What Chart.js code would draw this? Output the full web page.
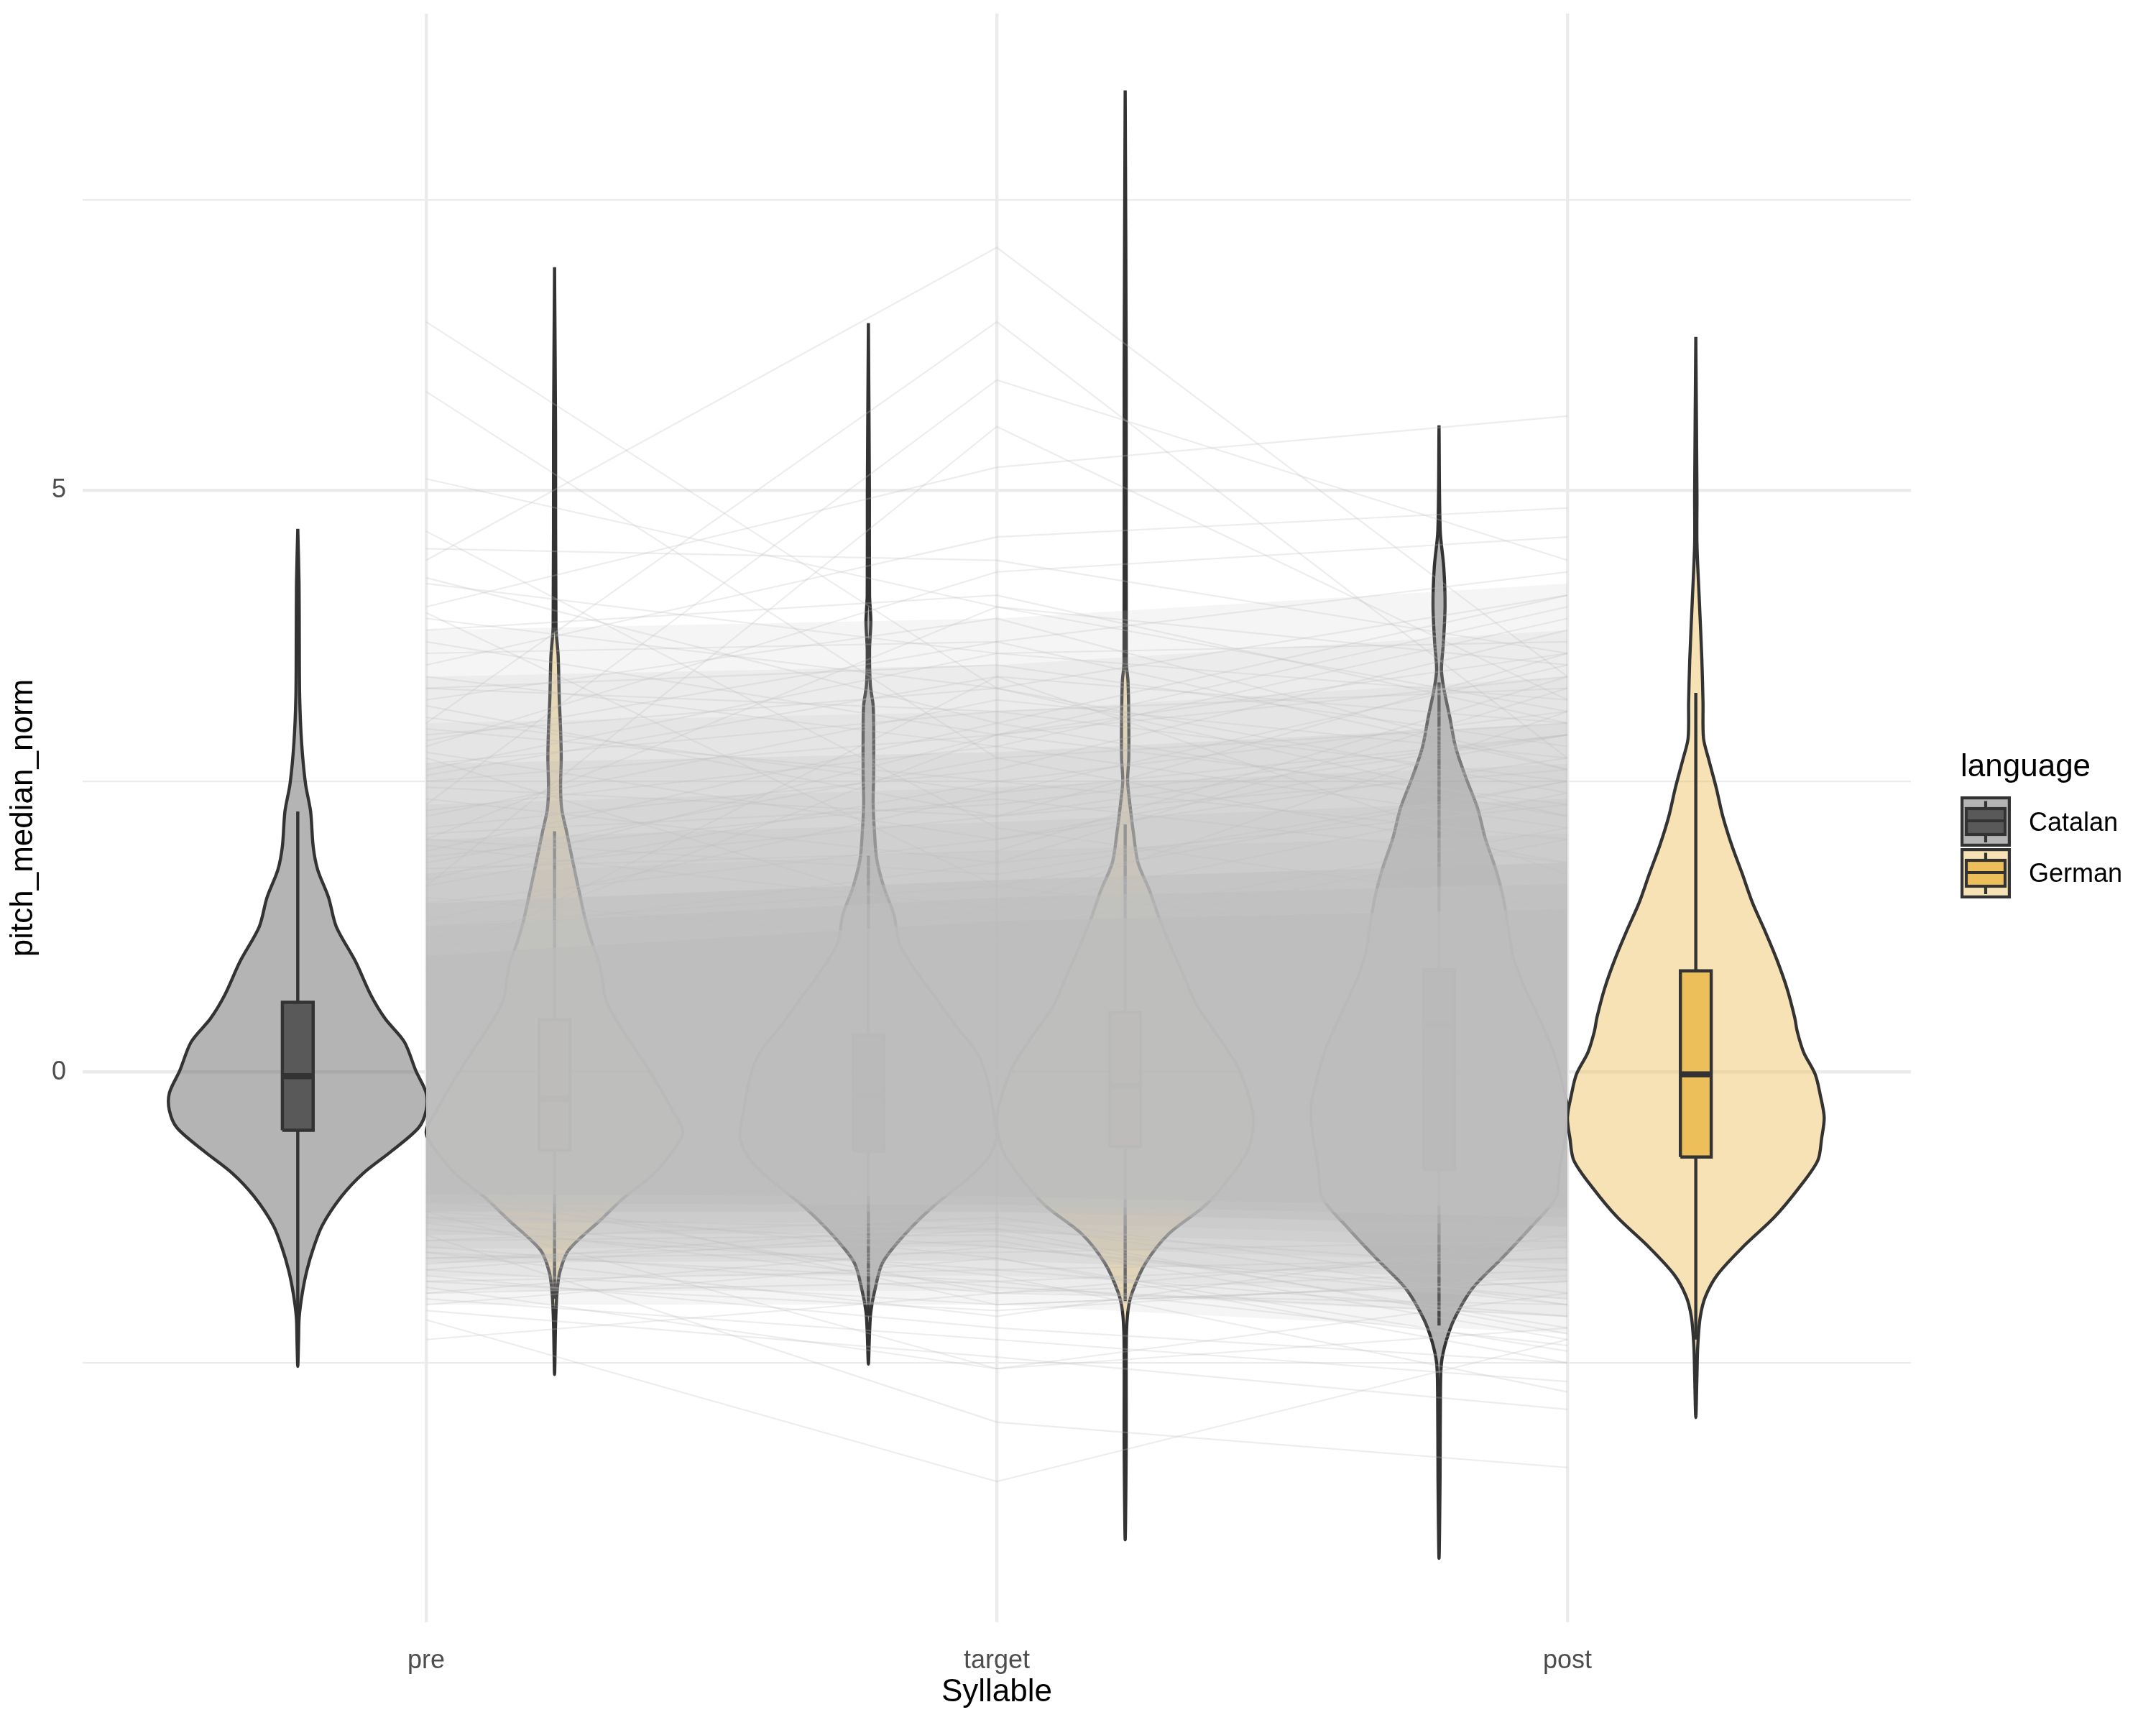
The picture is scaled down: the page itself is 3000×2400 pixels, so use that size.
<!DOCTYPE html>
<html>
<head>
<meta charset="utf-8">
<script src="https://cdn.jsdelivr.net/npm/chart.js@4.4.1/dist/chart.umd.min.js"></script>
<style>
html,body{margin:0;padding:0;background:#ffffff;}
#wrap{width:3000px;height:2400px;position:relative;}
</style>
</head>
<body>
<div id="wrap"><canvas id="c"></canvas></div>
<script>
// ---------------- data ----------------
const categories = ['pre', 'target', 'post'];
const languages = ['Catalan', 'German'];
const yGridValues = [-2.5, 0, 2.5, 5, 7.5];
const yTickLabels = [0, 5];

// violin outlines: y levels and relative half-width (1 = widest)
const catalanPreY = [4.67,4.2,3.7,3.22,2.83,2.48,2.24,1.94,1.74,1.50,1.25,0.95,0.66,0.46,0.26,0.01,-0.18,-0.33,-0.48,-0.68,-0.87,-1.07,-1.32,-1.52,-1.71,-1.91,-2.11,-2.31,-2.53];
const catalanPreW = [0,0.01,0.012,0.015,0.03,0.06,0.10,0.12,0.155,0.24,0.30,0.45,0.57,0.68,0.83,0.92,1.0,1.0,0.94,0.73,0.51,0.34,0.19,0.12,0.07,0.034,0.011,0.006,0];
const germanPreY = [6.92,5.5,3.83,3.58,3.2,2.95,2.70,2.45,2.26,2.07,1.82,1.56,1.31,1.12,0.93,0.81,0.62,0.43,0.18,-0.08,-0.33,-0.52,-0.71,-0.90,-1.08,-1.27,-1.53,-1.72,-1.90,-2.16,-2.6];
const germanPreW = [0,0.008,0.011,0.028,0.037,0.047,0.052,0.047,0.056,0.093,0.14,0.19,0.24,0.29,0.35,0.37,0.40,0.49,0.64,0.79,0.92,1.0,0.90,0.75,0.54,0.36,0.11,0.041,0.019,0.008,0];
const catalanTargetY = [6.44,5.0,4.1,3.87,3.63,3.33,3.15,2.91,2.55,2.31,2.07,1.83,1.59,1.35,1.11,0.87,0.63,0.40,0.16,-0.08,-0.32,-0.56,-0.74,-0.92,-1.16,-1.40,-1.64,-1.88,-2.06,-2.24,-2.51];
const catalanTargetW = [0,0.008,0.009,0.019,0.009,0.015,0.037,0.041,0.041,0.037,0.047,0.065,0.12,0.20,0.24,0.37,0.53,0.68,0.85,0.93,0.97,1.0,0.93,0.77,0.50,0.28,0.11,0.049,0.019,0.009,0];
const germanTargetY = [8.44,6.0,3.52,3.36,3.03,2.70,2.5,2.30,2.05,1.80,1.56,1.31,1.07,0.82,0.57,0.33,0.08,-0.16,-0.41,-0.66,-0.90,-1.15,-1.39,-1.64,-1.89,-2.05,-2.3,-3.2,-4.02];
const germanTargetW = [0,0.008,0.009,0.022,0.028,0.028,0.019,0.037,0.065,0.10,0.19,0.27,0.36,0.46,0.56,0.71,0.86,0.95,1.0,0.96,0.82,0.62,0.34,0.16,0.056,0.022,0.009,0.008,0];
const catalanPostY = [5.56,4.66,4.34,4.01,3.69,3.46,3.30,3.05,2.79,2.53,2.27,2.01,1.75,1.50,1.24,0.98,0.72,0.46,0.21,-0.05,-0.31,-0.57,-0.83,-1.08,-1.34,-1.60,-1.86,-2.12,-2.31,-2.50,-2.76,-3.5,-4.18];
const catalanPostW = [0,0.009,0.037,0.047,0.034,0.019,0.037,0.084,0.13,0.21,0.30,0.36,0.44,0.50,0.54,0.58,0.67,0.78,0.88,0.95,1.0,0.98,0.94,0.91,0.71,0.49,0.26,0.12,0.056,0.019,0.011,0.008,0];
const germanPostY = [6.32,4.97,4.54,4.04,3.55,3.18,2.87,2.69,2.44,2.20,1.95,1.71,1.46,1.21,0.97,0.72,0.47,0.35,0.17,-0.02,-0.20,-0.39,-0.57,-0.76,-1.0,-1.25,-1.50,-1.74,-1.93,-2.11,-2.36,-2.6,-2.97];
const germanPostW = [0,0.009,0.009,0.028,0.047,0.056,0.06,0.10,0.16,0.21,0.28,0.36,0.44,0.54,0.63,0.71,0.77,0.79,0.84,0.93,0.97,1.0,0.98,0.95,0.80,0.61,0.37,0.17,0.075,0.034,0.015,0.009,0];

// boxplots, order: Catalan pre, German pre, Catalan target, German target, Catalan post, German post
const boxQ1 = [-0.50, -0.67, -0.68, -0.64, -0.84, -0.73];
const boxMedian = [-0.035, -0.23, -0.20, -0.12, 0.41, -0.02];
const boxQ3 = [0.60, 0.45, 0.32, 0.51, 0.88, 0.87];
const whiskerLow = [-2.15, -1.95, -2.10, -1.97, -2.18, -2.30];
const whiskerHigh = [2.24, 2.07, 1.86, 2.13, 3.35, 3.26];

// individual item trajectories (pre, target, post) visible outside the dense band
const linePre =    [6.45,5.85,5.1,4.4,3.0,2.3,1.6,4.0,3.5,2.8,4.65,4.25,3.95,3.8,3.6,3.4,3.2,3.05,2.9,2.75,2.6,2.5,2.35,2.2,2.1,1.95,1.8,1.7,1.5,1.3,1.15,0.9,4.5,3.3,2.0,1.0,0.6,2.7,
                    3.7,3.3,2.95,2.65,2.45,2.25,2.05,1.9,1.75,1.6,1.45,1.25,3.9,3.15,2.55,2.0,1.85,4.2,2.85,1.65,
                    -1.5,-1.6,-1.7,-1.75,-1.8,-1.85,-1.9,-1.95,-2.0,-2.13,-1.4,-1.2,-1.65,-2.3,-1.3,-1.1,-1.55,-1.45,-0.9,-2.05,-1.25,
                    -1.35,-1.45,-1.6,-1.7,-1.2,-1.8,-1.55,-1.25,-1.9,-1.0];
const lineTarget = [3.3,2.7,4.0,7.09,6.45,5.95,5.55,5.2,4.6,4.3,2.1,3.0,1.6,4.1,3.7,2.8,3.9,2.4,3.3,2.0,3.6,2.9,1.8,3.2,2.6,1.4,2.7,2.2,1.1,2.4,1.8,3.4,4.4,3.1,4.0,2.9,1.4,1.2,
                    2.9,3.5,2.5,3.1,2.2,2.8,2.3,3.0,1.9,2.5,2.0,1.6,3.3,2.2,3.4,1.7,2.35,3.6,3.7,2.9,
                    -1.9,-1.45,-2.0,-2.2,-1.7,-2.55,-1.8,-2.3,-1.6,-3.52,-3.01,-2.55,-1.3,-1.9,-1.85,-1.6,-2.1,-1.4,-2.0,-2.45,-1.75,
                    -1.7,-1.25,-1.55,-1.35,-1.5,-2.05,-1.8,-1.35,-1.5,-1.9];
const linePost =   [2.2,1.8,3.1,3.4,2.7,4.4,3.2,5.64,4.85,4.6,1.4,4.1,1.0,3.0,4.3,3.9,2.6,3.5,4.1,2.9,3.7,2.3,3.3,2.7,3.8,2.4,3.0,2.6,2.0,2.9,2.3,1.7,3.6,3.3,3.5,4.0,3.1,2.1,
                    3.4,2.8,3.1,2.5,3.6,2.1,2.9,2.2,3.4,2.0,2.7,2.5,2.4,2.9,3.0,2.5,1.8,3.2,2.6,3.6,
                    -2.0,-2.3,-1.8,-2.5,-2.1,-2.2,-1.6,-2.66,-2.4,-2.3,-3.40,-1.9,-2.0,-1.7,-2.1,-2.5,-1.4,-2.2,-1.8,-2.9,-2.75,
                    -1.6,-1.9,-1.45,-2.25,-2.0,-1.75,-2.35,-1.7,-1.95,-1.5];

// dense core of the ~1000 trajectories: nested envelopes at pre / target / post (outer -> inner)
const bandLower = [[-2.0,-2.0,-2.25],[-1.88,-1.88,-2.1],[-1.76,-1.75,-1.95],[-1.64,-1.62,-1.8],[-1.52,-1.5,-1.65],
                   [-1.4,-1.38,-1.52],[-1.3,-1.29,-1.43],[-1.2,-1.2,-1.33],[-1.13,-1.14,-1.25],[-1.05,-1.07,-1.17]];
const bandUpper = [[3.8,3.9,4.2],[3.4,3.5,3.8],[3.0,3.1,3.4],[2.65,2.75,3.0],[2.3,2.45,2.65],
                   [2.0,2.15,2.35],[1.7,1.9,2.05],[1.45,1.65,1.8],[1.25,1.5,1.62],[1.0,1.3,1.4]];

const legendTitle = 'language';
const xTitle = 'Syllable';
const yTitle = 'pitch_median_norm';

// ---------------- styling ----------------
const FONT = '"Liberation Sans", Arial, Helvetica, sans-serif';
Chart.defaults.font.family = FONT;
const violinFill = ['rgba(89,89,89,0.45)', 'rgba(237,191,90,0.45)'];
const boxFill = ['#595959', '#EDBF5A'];
const outline = '#333333';
const bandAlpha = [0.15, 0.153, 0.167, 0.2, 0.208, 0.237, 0.276, 0.381, 0.5, 0.75];
const dodge = 0.225, violinHalf = 0.225, boxHalf = 0.027;

const violins = [
  {cat: 0, lang: 0, y: catalanPreY, w: catalanPreW},
  {cat: 0, lang: 1, y: germanPreY, w: germanPreW},
  {cat: 1, lang: 0, y: catalanTargetY, w: catalanTargetW},
  {cat: 1, lang: 1, y: germanTargetY, w: germanTargetW},
  {cat: 2, lang: 0, y: catalanPostY, w: catalanPostW},
  {cat: 2, lang: 1, y: germanPostY, w: germanPostW}
];

const datasets = [];

// individual trajectories (top)
for (let i = 0; i < linePre.length; i++) {
  datasets.push({
    data: [{x: 1, y: linePre[i]}, {x: 2, y: lineTarget[i]}, {x: 3, y: linePost[i]}],
    borderColor: 'rgba(190,190,190,0.28)', borderWidth: 2.2, pointRadius: 0,
    fill: false, tension: 0, order: 1
  });
}
// dense band
for (let k = 0; k < bandLower.length; k++) {
  const up = bandUpper[k], lo = bandLower[k];
  datasets.push({
    data: [{x: 1, y: up[0]}, {x: 2, y: up[1]}, {x: 3, y: up[2]},
           {x: 3, y: lo[2]}, {x: 2, y: lo[1]}, {x: 1, y: lo[0]}],
    backgroundColor: 'rgba(190,190,190,' + bandAlpha[k] + ')',
    borderColor: 'rgba(0,0,0,0)', borderWidth: 0, pointRadius: 0,
    fill: 'shape', tension: 0, order: 2
  });
}
// violins + boxplots
violins.forEach((v, g) => {
  const c = v.cat + 1 + (v.lang === 0 ? -dodge : dodge);
  const pts = [];
  for (let i = 0; i < v.y.length; i++) pts.push({x: c + v.w[i] * violinHalf, y: v.y[i]});
  for (let i = v.y.length - 2; i >= 1; i--) pts.push({x: c - v.w[i] * violinHalf, y: v.y[i]});
  pts.push({x: c, y: v.y[0]});
  datasets.push({
    data: pts, backgroundColor: violinFill[v.lang], borderColor: outline, borderWidth: 4.4,
    borderJoinStyle: 'round', pointRadius: 0, fill: 'shape', tension: 0.3, order: 6
  });
  datasets.push({
    data: [{x: c, y: whiskerLow[g]}, {x: c, y: whiskerHigh[g]}],
    borderColor: outline, borderWidth: 4.4, pointRadius: 0, fill: false, tension: 0, order: 5
  });
  datasets.push({
    data: [{x: c - boxHalf, y: boxQ1[g]}, {x: c + boxHalf, y: boxQ1[g]}, {x: c + boxHalf, y: boxQ3[g]},
           {x: c - boxHalf, y: boxQ3[g]}, {x: c - boxHalf, y: boxQ1[g]}],
    backgroundColor: boxFill[v.lang], borderColor: outline, borderWidth: 4.4,
    borderJoinStyle: 'miter', pointRadius: 0, fill: 'shape', tension: 0, order: 4
  });
  datasets.push({
    data: [{x: c - boxHalf, y: boxMedian[g]}, {x: c + boxHalf, y: boxMedian[g]}],
    borderColor: outline, borderWidth: 8.5, pointRadius: 0, fill: false, tension: 0, order: 3
  });
});

// ---------------- legend (ggplot style) ----------------
const ggLegend = {
  id: 'ggLegend',
  afterDraw(chart) {
    const ctx = chart.ctx;
    ctx.save();
    ctx.fillStyle = '#000000';
    ctx.textAlign = 'left';
    ctx.textBaseline = 'alphabetic';
    ctx.font = '44px ' + FONT;
    ctx.fillText(legendTitle, 2728, 1080);
    languages.forEach((lab, i) => {
      const x0 = 2728, y0 = 1108 + i * 72, s = 70, cx = x0 + s / 2;
      ctx.fillStyle = violinFill[i];
      ctx.fillRect(x0, y0, s, s);
      ctx.strokeStyle = outline;
      ctx.lineWidth = 4.2;
      ctx.strokeRect(x0 + 2.1, y0 + 2.1, s - 4.2, s - 4.2);
      ctx.beginPath();
      ctx.moveTo(cx, y0 + 6.5); ctx.lineTo(cx, y0 + s - 6);
      ctx.stroke();
      ctx.fillStyle = boxFill[i];
      ctx.fillRect(x0 + 8, y0 + 17, s - 16, s - 34);
      ctx.strokeRect(x0 + 8, y0 + 17, s - 16, s - 34);
      ctx.beginPath();
      ctx.moveTo(x0 + 8, y0 + 34); ctx.lineTo(x0 + s - 8, y0 + 34);
      ctx.stroke();
      ctx.fillStyle = '#000000';
      ctx.font = '36px ' + FONT;
      ctx.fillText(lab, 2823, 1156 + i * 71);
    });
    ctx.restore();
  }
};

new Chart(document.getElementById('c'), {
  type: 'line',
  data: {datasets: datasets},
  plugins: [ggLegend],
  options: {
    responsive: true,
    maintainAspectRatio: false,
    animation: false,
    devicePixelRatio: 1,
    events: [],
    layout: {padding: {left: 0, top: 19, right: 341, bottom: 0}},
    plugins: {legend: {display: false}, tooltip: {enabled: false}},
    elements: {line: {capBezierPoints: false}},
    scales: {
      x: {
        type: 'linear', min: 0.398, max: 3.602,
        afterBuildTicks: ax => { ax.ticks = categories.map((c, i) => ({value: i + 1})); },
        afterFit: ax => { ax.height = 143; ax.paddingLeft = 0; ax.paddingRight = 0; },
        ticks: {callback: v => categories[v - 1] || '', font: {size: 36}, color: '#4D4D4D',
                padding: 32, maxRotation: 0, autoSkip: false},
        grid: {color: '#EBEBEB', lineWidth: 4.4, drawTicks: false},
        border: {display: false},
        title: {display: true, text: xTitle, font: {size: 44}, color: '#000000', padding: {top: 0, bottom: 19}}
      },
      y: {
        type: 'linear', min: -4.73, max: 9.10,
        afterBuildTicks: ax => { ax.ticks = yGridValues.map(v => ({value: v})); },
        afterFit: ax => { ax.width = 115; ax.paddingTop = 0; ax.paddingBottom = 0; },
        ticks: {callback: v => (yTickLabels.indexOf(v) >= 0 ? String(v) : ''), font: {size: 36},
                color: '#4D4D4D', padding: 23, autoSkip: false},
        grid: {color: '#EBEBEB', lineWidth: c => (c.tick && yTickLabels.indexOf(c.tick.value) >= 0 ? 4.4 : 2.2),
               drawTicks: false},
        border: {display: false},
        title: {display: true, text: yTitle, font: {size: 44}, color: '#000000', padding: {top: 6, bottom: 0}}
      }
    }
  }
});
</script>
</body>
</html>
